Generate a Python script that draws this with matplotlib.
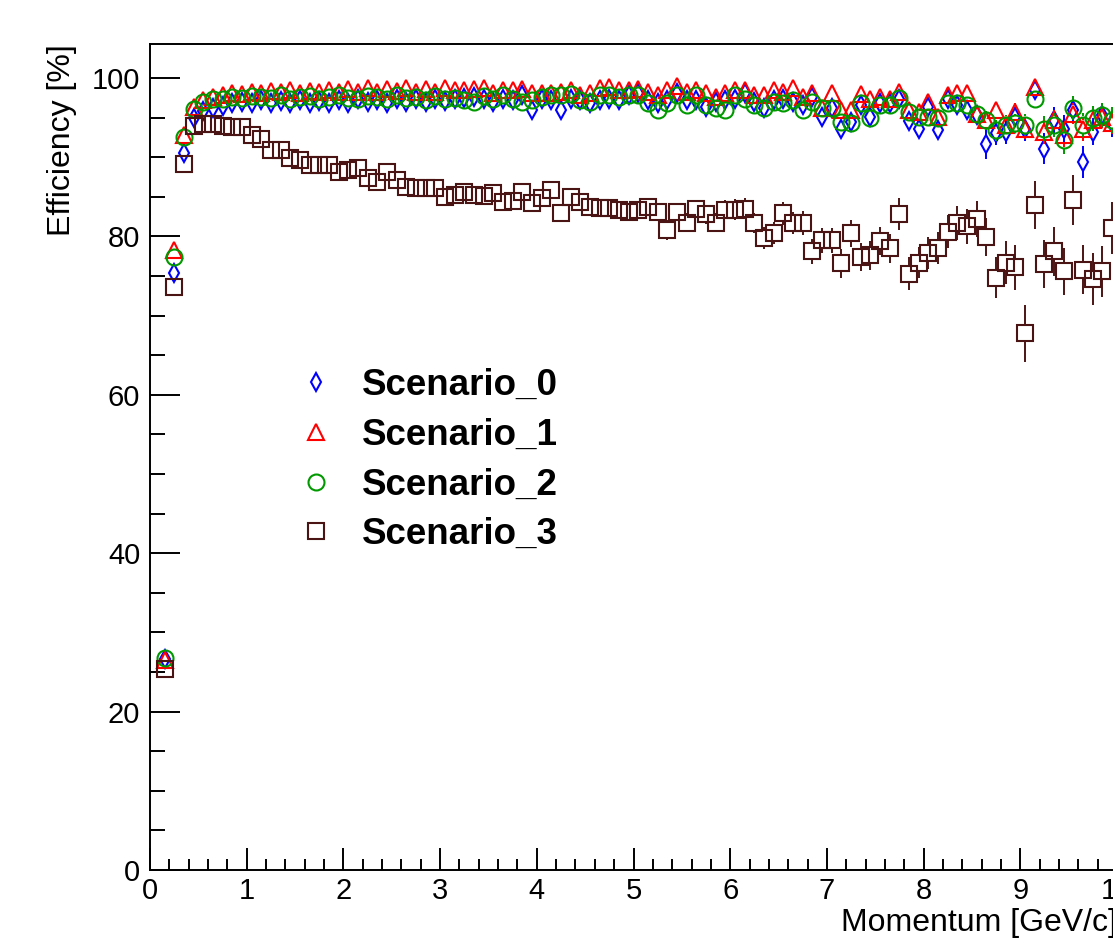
import numpy as np
import matplotlib
matplotlib.use('Agg')
import matplotlib.pyplot as plt
from matplotlib.lines import Line2D
from matplotlib.ticker import MultipleLocator

plt.rcParams['font.family'] = ['Liberation Sans', 'DejaVu Sans']

# bin centres, 0.1 GeV/c wide bins from 0.1 to 10
momentum = np.linspace(0.15, 9.95, 99)

eff_s0 = [26.6, 75.4, 90.5, 94.9, 95.9, 96.2, 96.5, 96.8, 97.0, 96.8,
          97.2, 96.9, 97.1, 96.8, 97.2, 96.9, 97.1, 96.8, 97.2, 96.9,
          97.3, 97.0, 97.2, 96.9, 97.3, 97.0, 97.4, 97.0, 97.3, 97.1,
          97.3, 97.5, 97.6, 97.4, 97.0, 97.4, 97.2, 97.9, 96.0, 97.4,
          97.2, 96.0, 97.4, 97.2, 96.8, 97.2, 97.4, 97.2, 97.9, 98.1,
          97.2, 96.8, 97.2, 98.1, 97.2, 97.2, 96.4, 97.0, 97.2, 97.4,
          98.1, 97.0, 96.2, 97.2, 97.4, 97.0, 96.6, 97.6, 95.1, 96.2,
          93.6, 94.5, 96.6, 95.1, 96.8, 96.8, 97.4, 94.6, 93.6, 96.4,
          93.4, 97.4, 96.6, 96.0, 95.3, 91.7, 93.0, 93.2, 95.1, 93.6,
          98.5, 91.1, 94.7, 93.6, 96.0, 89.4, 93.2, 95.3, 94.3]
err_s0 = [1.2, 1.0, 0.6, 0.4, 0.3, 0.3, 0.3, 0.3, 0.3, 0.3,
          0.3, 0.3, 0.3, 0.3, 0.3, 0.3, 0.3, 0.3, 0.3, 0.3,
          0.3, 0.3, 0.3, 0.3, 0.3, 0.3, 0.3, 0.3, 0.3, 0.3,
          0.4, 0.4, 0.4, 0.4, 0.4, 0.4, 0.4, 0.4, 0.4, 0.4,
          0.4, 0.4, 0.4, 0.4, 0.4, 0.4, 0.4, 0.4, 0.4, 0.4,
          0.5, 0.5, 0.5, 0.5, 0.5, 0.5, 0.5, 0.5, 0.5, 0.5,
          0.6, 0.6, 0.6, 0.6, 0.6, 0.6, 0.6, 0.6, 0.7, 0.7,
          0.8, 0.8, 0.9, 0.8, 0.9, 0.9, 0.9, 1.0, 1.0, 0.9,
          1.1, 0.9, 1.0, 1.1, 1.1, 1.9, 1.5, 1.5, 1.3, 1.5,
          1.0, 1.9, 1.6, 1.7, 1.4, 2.0, 1.7, 1.6, 1.7]

eff_s1 = [26.5, 78.3, 92.8, 96.3, 97.2, 97.6, 97.9, 98.1, 98.0, 98.3,
          98.1, 98.4, 98.2, 98.5, 98.1, 98.4, 98.2, 98.5, 98.2, 98.6,
          98.3, 98.7, 98.2, 98.6, 98.4, 98.7, 98.3, 98.6, 98.2, 98.7,
          98.5, 98.5, 98.6, 98.7, 98.1, 98.5, 98.5, 98.6, 98.1, 98.1,
          98.1, 98.3, 98.5, 97.9, 98.1, 98.7, 98.9, 98.5, 98.5, 98.6,
          98.3, 97.9, 98.5, 99.0, 98.3, 98.5, 98.1, 97.6, 98.1, 98.5,
          98.5, 97.9, 97.9, 98.5, 98.3, 98.7, 97.6, 98.1, 96.2, 98.1,
          96.0, 96.0, 98.0, 97.4, 97.6, 97.4, 98.3, 96.0, 95.7, 97.0,
          95.1, 97.9, 98.1, 98.1, 95.5, 94.7, 96.0, 94.1, 95.7, 93.6,
          98.9, 93.2, 94.7, 92.8, 95.5, 93.6, 94.7, 95.1, 94.3]
err_s1 = [1.1, 0.9, 0.5, 0.3, 0.3, 0.3, 0.2, 0.2, 0.2, 0.2,
          0.2, 0.2, 0.2, 0.2, 0.2, 0.2, 0.2, 0.2, 0.2, 0.2,
          0.3, 0.3, 0.3, 0.3, 0.3, 0.3, 0.3, 0.3, 0.3, 0.3,
          0.3, 0.3, 0.3, 0.3, 0.3, 0.3, 0.3, 0.3, 0.3, 0.3,
          0.4, 0.4, 0.4, 0.4, 0.4, 0.4, 0.4, 0.4, 0.4, 0.4,
          0.4, 0.4, 0.4, 0.4, 0.4, 0.4, 0.4, 0.4, 0.4, 0.4,
          0.5, 0.5, 0.5, 0.5, 0.5, 0.5, 0.5, 0.5, 0.6, 0.6,
          0.7, 0.7, 0.7, 0.7, 0.7, 0.7, 0.7, 0.8, 0.8, 0.8,
          0.9, 0.8, 0.8, 0.8, 0.9, 1.1, 1.0, 1.2, 1.1, 1.3,
          0.8, 1.5, 1.3, 1.5, 1.3, 1.5, 1.4, 1.4, 1.4]

eff_s2 = [26.8, 77.4, 92.6, 96.1, 97.0, 97.3, 97.4, 97.6, 97.5, 97.7,
          97.6, 97.5, 97.8, 97.4, 97.6, 97.7, 97.3, 97.6, 97.8, 97.5,
          97.4, 97.7, 97.6, 97.3, 97.8, 97.5, 97.6, 97.2, 97.7, 97.4,
          97.5, 97.2, 97.0, 97.7, 97.4, 97.8, 97.4, 97.0, 97.2, 97.6,
          97.9, 97.9, 98.0, 97.2, 97.0, 97.8, 97.9, 97.6, 97.8, 97.9,
          96.8, 96.0, 96.8, 97.8, 96.6, 97.8, 96.6, 96.2, 96.0, 97.8,
          97.4, 96.6, 96.2, 97.0, 96.8, 97.2, 96.0, 97.0, 96.2, 96.2,
          94.5, 94.3, 96.8, 94.9, 96.6, 96.6, 97.5, 95.7, 95.1, 95.1,
          94.9, 96.8, 96.8, 96.6, 95.5, 94.7, 93.4, 94.1, 94.3, 94.1,
          97.4, 93.6, 94.1, 92.2, 96.2, 94.1, 94.9, 95.3, 94.7]
err_s2 = [1.1, 0.9, 0.5, 0.3, 0.3, 0.3, 0.3, 0.3, 0.3, 0.3,
          0.3, 0.3, 0.3, 0.3, 0.3, 0.3, 0.3, 0.3, 0.3, 0.3,
          0.3, 0.3, 0.3, 0.3, 0.3, 0.3, 0.3, 0.3, 0.3, 0.3,
          0.3, 0.3, 0.3, 0.3, 0.3, 0.3, 0.3, 0.3, 0.3, 0.3,
          0.4, 0.4, 0.4, 0.4, 0.4, 0.4, 0.4, 0.4, 0.4, 0.4,
          0.5, 0.5, 0.5, 0.5, 0.5, 0.5, 0.5, 0.5, 0.5, 0.5,
          0.5, 0.5, 0.5, 0.5, 0.5, 0.5, 0.6, 0.6, 0.6, 0.6,
          0.8, 0.8, 0.7, 0.8, 0.7, 0.7, 0.7, 0.9, 0.9, 0.9,
          1.0, 0.8, 0.8, 0.9, 1.0, 1.2, 1.3, 1.2, 1.2, 1.3,
          0.9, 1.6, 1.5, 1.8, 1.5, 1.5, 1.6, 1.5, 1.6]

eff_s3 = [25.4, 73.6, 89.1, 94.0, 94.2, 94.2, 93.9, 93.8, 93.8, 92.8,
          92.3, 90.9, 90.9, 89.9, 89.6, 89.0, 89.0, 89.0, 88.2, 88.4,
          88.6, 87.4, 86.9, 88.2, 87.1, 86.3, 86.1, 86.1, 86.1, 85.0,
          85.2, 85.6, 85.2, 85.1, 85.5, 84.4, 84.5, 85.6, 84.2, 84.8,
          85.9, 82.9, 85.0, 84.4, 83.7, 83.6, 83.6, 83.3, 83.1, 83.4,
          83.7, 83.1, 80.8, 83.1, 81.7, 83.5, 82.8, 81.7, 83.4, 83.4,
          83.5, 81.7, 79.8, 80.4, 82.9, 81.7, 81.7, 78.1, 79.5, 79.5,
          76.6, 80.4, 77.4, 77.6, 79.4, 78.5, 82.8, 75.3, 76.7, 77.9,
          78.5, 80.6, 81.7, 81.3, 82.2, 79.9, 74.8, 76.7, 76.1, 67.8,
          84.0, 76.5, 78.1, 75.6, 84.6, 75.8, 74.6, 75.6, 81.1]
err_s3 = [0.6, 0.6, 0.4, 0.3, 0.3, 0.3, 0.3, 0.3, 0.3, 0.3,
          0.3, 0.4, 0.4, 0.4, 0.4, 0.4, 0.4, 0.4, 0.4, 0.5,
          0.5, 0.5, 0.5, 0.5, 0.5, 0.5, 0.5, 0.6, 0.6, 0.6,
          0.6, 0.6, 0.6, 0.7, 0.7, 0.7, 0.7, 0.7, 0.8, 0.8,
          0.8, 0.8, 0.9, 0.9, 0.9, 0.9, 1.0, 1.0, 1.0, 1.0,
          1.1, 1.1, 1.3, 1.1, 1.2, 1.1, 1.2, 1.2, 1.2, 1.3,
          1.3, 1.3, 1.4, 1.4, 1.5, 1.4, 1.5, 1.6, 1.6, 1.6,
          1.8, 1.7, 1.8, 1.8, 1.8, 1.8, 2.0, 2.1, 2.0, 2.0,
          2.0, 2.1, 2.2, 2.2, 2.3, 2.4, 2.6, 2.7, 2.8, 3.6,
          3.0, 3.0, 3.1, 3.0, 3.2, 3.1, 3.3, 3.2, 3.3]

labels = ['Scenario_0', 'Scenario_1', 'Scenario_2', 'Scenario_3']
colors = ['#0000ff', '#ff0000', '#009900', '#4b1414']
markers = ['d', '^', 'o', 's']
msizes = [8.8, 11.5, 11.5, 12]

W, H = 1113, 942
fig = plt.figure(figsize=(W / 100, H / 100), dpi=100)
# frame runs a bit past the right edge of the canvas (cropped like the original)
ax = fig.add_axes([150 / W, (H - 870) / H, 967 / W, 826 / H])
ax.set_xlim(0, 10)
ax.set_ylim(0, 104.3)

px_per_unit = 826 / 104.3
series = [(eff_s0, err_s0), (eff_s1, err_s1), (eff_s2, err_s2), (eff_s3, err_s3)]
handles = []
for (vals, errs), col, mk, ms in zip(series, colors, markers, msizes):
    vals = np.array(vals)
    errs = np.array(errs)
    ax.plot(momentum, vals, ls='none', marker=mk, ms=ms, mfc='none',
            mec=col, mew=1.5)
    # ROOT style: error bars stop at the marker edge
    gap = 8.3 / px_per_unit
    m = errs > gap
    ax.vlines(momentum[m], vals[m] - errs[m], vals[m] - gap, color=col, lw=1.4)
    ax.vlines(momentum[m], vals[m] + gap, vals[m] + errs[m], color=col, lw=1.4)
    handles.append(Line2D([], [], ls='none', marker=mk, ms=ms, mfc='none',
                          mec=col, mew=1.5))

ax.xaxis.set_major_locator(MultipleLocator(1))
ax.xaxis.set_minor_locator(MultipleLocator(0.2))
ax.yaxis.set_major_locator(MultipleLocator(20))
ax.yaxis.set_minor_locator(MultipleLocator(5))
ax.tick_params(which='both', direction='in', top=False, right=False,
               width=1.4, labelsize=21)
ax.tick_params(axis='x', which='major', length=16, pad=5)
ax.tick_params(axis='x', which='minor', length=8)
ax.tick_params(axis='y', which='major', length=21.6, pad=7)
ax.tick_params(axis='y', which='minor', length=10.8)
for sp in ax.spines.values():
    sp.set_linewidth(1.4)

ax.set_ylabel('Efficiency [%]', fontsize=23, loc='top')
ax.yaxis.set_label_coords(-0.075, 1.0)
ax.set_xlabel('Momentum [GeV/c]', fontsize=23, loc='right')
ax.xaxis.set_label_coords(1.0, -0.046)

ax.legend(handles, labels, loc='upper left',
          bbox_to_anchor=(298 / W, 1 - 368 / H), bbox_transform=fig.transFigure,
          frameon=False, borderpad=0, borderaxespad=0,
          handlelength=1.0, handletextpad=0.74, labelspacing=0.4,
          prop={'weight': 'bold', 'size': 26.5})

fig.savefig('out.png', dpi=100)
